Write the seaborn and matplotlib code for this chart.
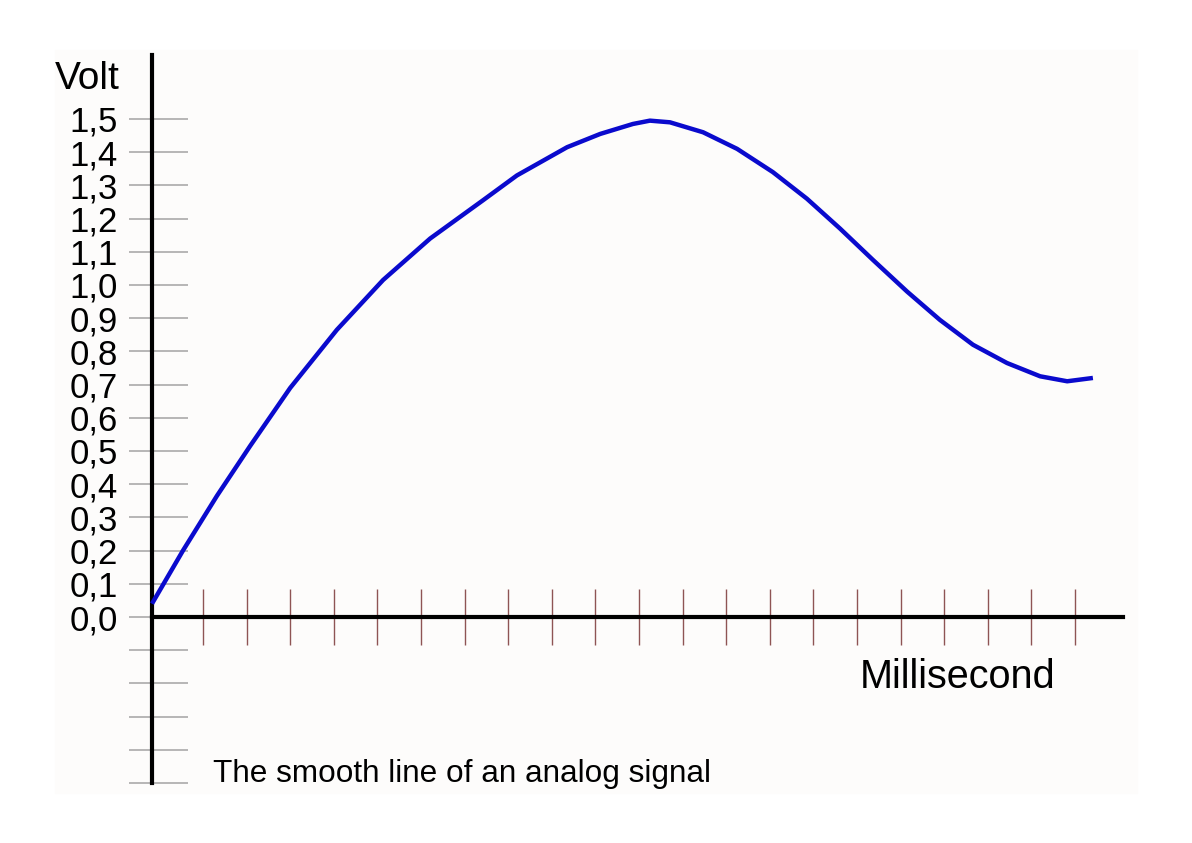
import matplotlib
matplotlib.use("Agg")
import matplotlib.pyplot as plt
from matplotlib.patches import Rectangle
import seaborn as sns

# curve (x in tick units, y in volt)
time_ms = [0.0, 0.71, 1.49, 2.25, 3.17, 4.24, 5.30, 6.38, 7.59, 8.37, 9.52,
           10.28, 11.03, 11.42, 11.88, 12.64, 13.42, 14.24, 15.02, 15.78,
           16.54, 17.32, 18.07, 18.83, 19.61, 20.37, 20.99, 21.58]
volt = [0.04, 0.20, 0.365, 0.515, 0.69, 0.865, 1.015, 1.14, 1.255, 1.33, 1.415,
        1.455, 1.485, 1.495, 1.49, 1.46, 1.41, 1.34, 1.26, 1.17,
        1.075, 0.98, 0.895, 0.82, 0.765, 0.725, 0.71, 0.72]

y_labels = ["0,0", "0,1", "0,2", "0,3", "0,4", "0,5", "0,6", "0,7",
            "0,8", "0,9", "1,0", "1,1", "1,2", "1,3", "1,4", "1,5"]
y_label_pos = [i / 10 for i in range(len(y_labels))]
y_marks = [i / 10 for i in range(-5, 16)]
x_marks = [1.17 + i for i in range(21)]

sns.set_style("white")
plt.rcParams["font.family"] = ["Liberation Sans", "DejaVu Sans"]

fig = plt.figure(figsize=(11.92, 8.43), dpi=100, facecolor="white")
fig.add_artist(Rectangle((55 / 1192, 50 / 843), 1082 / 1192, 743 / 843,
                         transform=fig.transFigure, color="#FDFCFB", zorder=-5))
ax = fig.add_axes([0, 0, 1, 1])
ax.set_facecolor("none")
ax.set_xlim(-3.486, 23.853)
ax.set_ylim(-0.6807, 1.8584)

# gray volt ticks
ax.hlines(y_marks, -0.528, 0.826, color="#A3A3A3", lw=1.1, zorder=1)

sns.lineplot(x=time_ms, y=volt, sort=False, color="#0A0ACD", lw=3.2, ax=ax,
             zorder=4, solid_joinstyle="round", solid_capstyle="butt")

for s in ["top", "right"]:
    ax.spines[s].set_visible(False)
ax.spines["left"].set_position(("data", 0))
ax.spines["left"].set_bounds(-0.5, 1.693)
ax.spines["bottom"].set_position(("data", 0))
ax.spines["bottom"].set_bounds(0, 22.27)
for s in ["left", "bottom"]:
    ax.spines[s].set_linewidth(3.0)
    ax.spines[s].set_color("black")
    ax.spines[s].set_zorder(3)

ax.set_yticks(y_label_pos)
ax.set_yticklabels(y_labels)
ax.tick_params(axis="y", left=False, length=0, pad=24.5, labelsize=25,
               labelcolor="black")
ax.set_xticks(x_marks)
ax.set_xticklabels([])
ax.tick_params(axis="x", bottom=True, direction="inout", length=40, width=1.0,
               color="#8E5454")

ax.text(-2.225, 1.590, "Volt", fontsize=28, color="black", va="baseline", ha="left")
ax.text(16.24, -0.214, "Millisecond", fontsize=28.5, color="black",
        va="baseline", ha="left")
ax.text(1.40, -0.497, "The smooth line of an analog signal", fontsize=22.7,
        color="black", va="baseline", ha="left")

fig.savefig("out.png", dpi=100, facecolor="white")
